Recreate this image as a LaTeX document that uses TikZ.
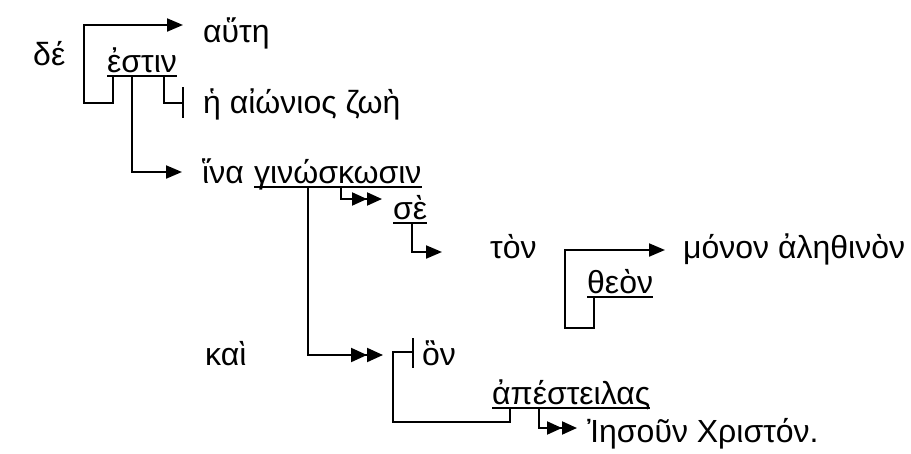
\documentclass[tikz,border=0pt]{standalone}
\usepackage{fontspec}
\setmainfont{Liberation Sans}
\usetikzlibrary{arrows.meta}
\begin{document}
\begin{tikzpicture}[x=1pt,y=-1pt,
  txt/.style={anchor=base west,inner sep=0pt,font=\fontsize{32}{38}\selectfont},
  conn/.style={line width=2pt},
  uline/.style={line width=2.8pt},
  onetip/.style={-{Triangle[length=16pt,width=13pt]}},
  twotip/.style={-{Triangle[length=16pt,width=14pt]Triangle[length=16pt,width=14pt]}},
  smalltwo/.style={-{Triangle[length=15pt,width=13pt]Triangle[length=15pt,width=13pt]}},
  ]
\useasboundingbox (0,0) rectangle (911,453);
% texts
\node[txt] (de) at (33,65) {δέ};
\node[txt] (autee) at (203,42) {αὕτη};
\node[txt] (estin) at (107,72) {ἐστιν};
\node[txt] (zoe) at (203,113) {ἡ αἰώνιος ζωὴ};
\node[txt] (hina) at (202,183) {ἵνα};
\node[txt] (gin) at (254,183) {γινώσκωσιν};
\node[txt] (se) at (393,219) {σὲ};
\node[txt] (ton) at (490,258) {τὸν};
\node[txt] (monon) at (683,258) {μόνον ἀληθινὸν};
\node[txt] (theon) at (587,293) {θεὸν};
\node[txt] (kai) at (205,365) {καὶ};
\node[txt] (hon) at (422,365) {ὃν};
\node[txt] (apest) at (492,404) {ἀπέστειλας};
\node[txt] (iesoun) at (587,442) {Ἰησοῦν Χριστόν.};
% underlines
\foreach \w in {estin,gin,se,theon,apest}
  \draw[uline] ([yshift=-4pt]\w.base west) -- ([yshift=-4pt]\w.base east);
% connector points
\coordinate (e1) at (113,76);
\coordinate (e2) at (164,76);
\coordinate (e3) at (132,76);
\coordinate (g1) at (341,187);
\coordinate (g2) at (308,187);
\coordinate (s1) at (412,223);
\coordinate (t1) at (594,297);
\coordinate (a1) at (510,408);
\coordinate (a2) at (539,408);
% connectors
\draw[conn,onetip] (e1) -- (113,103) -- (84,103) -- (84,25) -- (183,25);
\draw[conn] (e2) -- (164,103) -- (183,103);
\draw[conn] (183,87) -- (183,118);
\draw[conn,onetip] (e3) -- (132,172) -- (182,172);
\draw[conn,smalltwo] (g1) -- (341,199) -- (382,199);
\draw[conn,onetip] (s1) -- (412,252) -- (442,252);
\draw[conn,onetip] (t1) -- (594,328) -- (565,328) -- (565,250) -- (665,250);
\draw[conn,twotip] (g2) -- (308,355) -- (383,355);
\draw[conn] (413,338) -- (413,368);
\draw[conn] (413,352) -- (393,352) -- (393,422) -- (510,422) -- (a1);
\draw[conn,smalltwo] (a2) -- (539,428) -- (577,428);
\end{tikzpicture}
\end{document}
